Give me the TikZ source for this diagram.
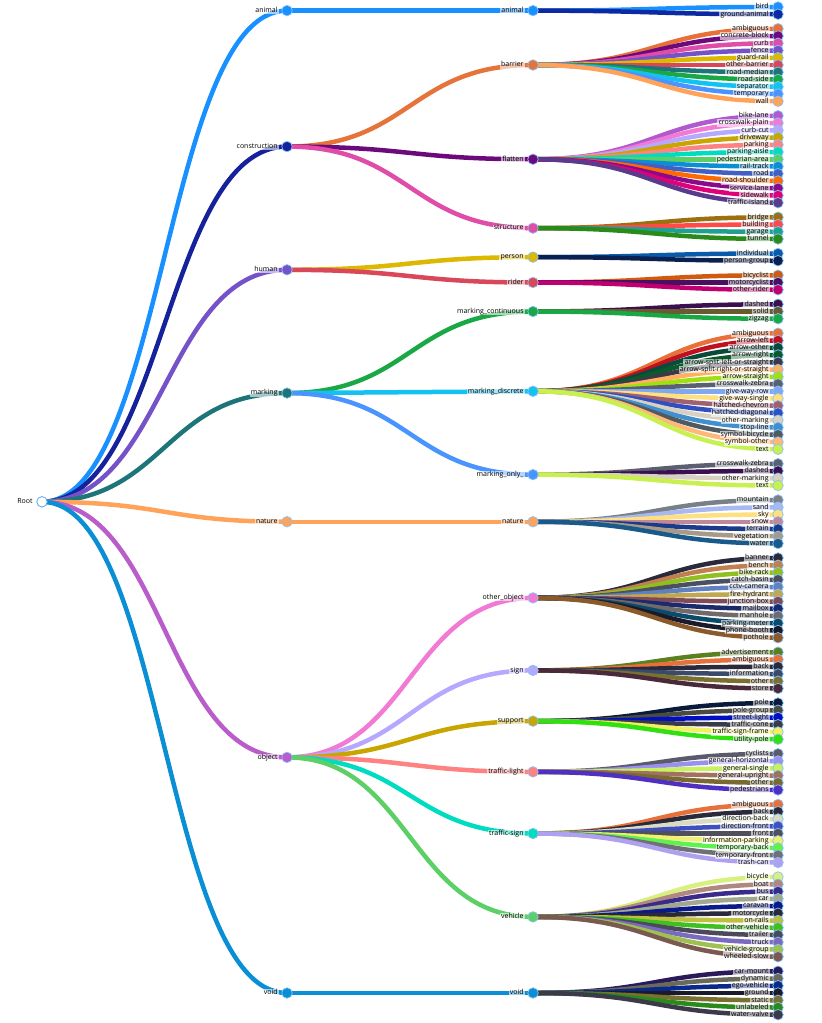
\documentclass[tikz,border=0pt]{standalone}
\usepackage{fontspec}
\setmainfont{Open Sans}
\usetikzlibrary{calc}
\pgfdeclarelayer{bg}
\pgfsetlayers{bg,main}
\tikzset{
  link/.style={line width=4.5pt},
  dot/.style={circle, minimum size=10.5pt, inner sep=0pt, draw=rootblue!70, line width=0.7pt},
  lab/.style={anchor=east, fill=white, fill opacity=0.6, text opacity=1, text=black,
    inner xsep=1.2pt, inner ysep=0.4pt, text height=4.9pt, text depth=1.4pt,
    font=\fontsize{7}{7}\selectfont},
}
\definecolor{rootblue}{HTML}{5AA8F0}
\newcommand\slotY[1]{\pgfmathsetmacro\yy{7+7.25*(#1)}}
% leaves of one level-2 group: parent short name, first slot, list of hex/label
\newcommand\leafgroup[3]{%
  \foreach \hx/\tx [count=\i from 0] in {#3}{%
    \pgfmathsetmacro\yy{7+7.25*(#2+\i)}%
    \definecolor{cc}{HTML}{\hx}%
    \node[dot, fill=cc] (L-#1-\i) at (778,\yy) {};
    \node[lab] (T-#1-\i) at ([xshift=-8pt]L-#1-\i.center) {\tx};
    \begin{pgfonlayer}{bg}
      \draw[link, draw=cc] (M-#1.center) .. controls +(122.5,0) and +(-122.5,0) .. (L-#1-\i.center);
    \end{pgfonlayer}
  }%
}
\begin{document}
\begin{tikzpicture}[x=1pt,y=-1pt]
\useasboundingbox (0,0) rectangle (822,1023);
% root
\slotY{68.25}
\node[dot, fill=white, draw=rootblue, line width=0.8pt] (R) at (42,\yy) {};
\node[lab] (T-R) at ([xshift=-8pt]R.center) {Root};
% level 1
\foreach \nm/\sl/\hx/\tx in {
  animal/0.5/1890FF/animal,
  construction/19.25/16229C/construction,
  human/36.25/7552C8/human,
  marking/53.25/1D7579/marking,
  nature/71/FFA35A/nature,
  object/103.5/B85DC9/object,
  void/136/0A8FD4/void}{
  \pgfmathsetmacro\yy{7+7.25*(\sl)}
  \definecolor{cc}{HTML}{\hx}
  \node[dot, fill=cc] (A-\nm) at (287,\yy) {};
  \node[lab] (T-A-\nm) at ([xshift=-8pt]A-\nm.center) {\tx};
  \begin{pgfonlayer}{bg}
    \draw[link, draw=cc] (R.center) .. controls +(122.5,0) and +(-122.5,0) .. (A-\nm.center);
  \end{pgfonlayer}
}
% level 2
\foreach \nm/\pa/\sl/\hx/\tx in {
  animal/animal/0.5/1890FF/animal,
  barrier/construction/8/E5733A/barrier,
  flatten/construction/21/6C0A7C/flatten,
  structure/construction/30.5/E04DA8/structure,
  person/human/34.5/DDB800/person,
  rider/human/38/D94858/rider,
  mcont/marking/42/19A845/marking\_continuous,
  mdisc/marking/53/14C2F2/marking\_discrete,
  monly/marking/64.5/4A94FF/marking\_only\_,
  nature/nature/71/FFA35A/nature,
  oobj/object/81.5/F07AD4/other\_object,
  sign/object/91.5/B6A8FF/sign,
  support/object/98.5/C8A500/support,
  tlight/object/105.5/FF8282/traffic-light,
  tsign/object/114/00DCC0/traffic-sign,
  vehicle/object/125.5/5CD066/vehicle,
  void/void/136/0A8FD4/void}{
  \pgfmathsetmacro\yy{7+7.25*(\sl)}
  \definecolor{cc}{HTML}{\hx}
  \node[dot, fill=cc] (M-\nm) at (533,\yy) {};
  \node[lab] (T-M-\nm) at ([xshift=-8pt]M-\nm.center) {\tx};
  \begin{pgfonlayer}{bg}
    \draw[link, draw=cc] (A-\pa.center) .. controls +(123,0) and +(-123,0) .. (M-\nm.center);
  \end{pgfonlayer}
}
% leaves
\leafgroup{animal}{0}{1890FF/bird, 0E2AA0/ground-animal}
\leafgroup{barrier}{3}{E8703A/ambiguous, 6C0A7C/concrete-block, E04DA8/curb, 7552C8/fence,
  DDB800/guard-rail, D94858/other-barrier, 1D7579/road-median, 19A845/road-side,
  14C2F2/separator, 4A94FF/temporary, FFA35A/wall}
\leafgroup{flatten}{15}{B05AD0/bike-lane, F07AD4/crosswalk-plain, B6A8FF/curb-cut, C8A500/driveway,
  FF8282/parking, 00DCC0/parking-aisle, 5CD066/pedestrian-area, 0A8FD4/rail-track,
  4060C8/road, FF6A00/road-shoulder, 8A0A8A/service-lane, E0007A/sidewalk, 5A3A8A/traffic-island}
\leafgroup{structure}{29}{9A7010/bridge, FF4A4A/building, 20A090/garage, 2A8A1A/tunnel}
\leafgroup{person}{34}{0A5AAA/individual, 0A2050/person-group}
\leafgroup{rider}{37}{D05A10/bicyclist, 4A1060/motorcyclist, C00070/other-rider}
\leafgroup{mcont}{41}{3A1050/dashed, 6A5A30/solid, 19A845/zigzag}
\leafgroup{mdisc}{45}{E8703A/ambiguous, C01020/arrow-left, 0A4A3A/arrow-other, 0A5A2A/arrow-right,
  3A3A4A/arrow-split-left-or-straight, FFB060/arrow-split-right-or-straight, A0E010/arrow-straight,
  5A6070/crosswalk-zebra, 80A8F0/give-way-row, FFE080/give-way-single, A06070/hatched-chevron,
  3050C0/hatched-diagonal, D8D0C0/other-marking, 4090D0/stop-line, 505A60/symbol-bicycle,
  FFB878/symbol-other, C8F050/text}
\leafgroup{monly}{63}{5A6070/crosswalk-zebra, 3A1050/dashed, D8D0C0/other-marking, C8F050/text}
\leafgroup{nature}{68}{7A8088/mountain, A8B8F0/sand, FFE080/sky, C08898/snow, 1A3A8A/terrain,
  A89A88/vegetation, 1A5A8A/water}
\leafgroup{oobj}{76}{2A2A3A/banner, C08050/bench, 90C020/bike-rack, 4A5060/catch-basin,
  6080C0/cctv-camera, C0A850/fire-hydrant, 804A5A/junction-box, 1A2A6A/mailbox,
  706A6A/manhole, 0A4A6A/parking-meter, 1A1A2A/phone-booth, 8A5A2A/pothole}
\leafgroup{sign}{89}{5A8020/advertisement, E8703A/ambiguous, 2A2A3A/back, 3A4A6A/information,
  7A7030/other, 4A2A3A/store}
\leafgroup{support}{96}{0A1A3A/pole, 4A4A40/pole-group, 0010C0/street-light, 3A3A4A/traffic-cone,
  F0F060/traffic-sign-frame, 30E010/utility-pole}
\leafgroup{tlight}{103}{5A5A6A/cyclists, 9A90F0/general-horizontal, C8F060/general-single,
  A07060/general-upright, 7A6A30/other, 5030C0/pedestrians}
\leafgroup{tsign}{110}{E8703A/ambiguous, 2A2A3A/back, D8DCC0/direction-back, 4050C0/direction-front,
  50505A/front, F0F070/information-parking, 60F050/temporary-back, 707078/temporary-front,
  B0A0F0/trash-can}
\leafgroup{vehicle}{120}{D8F080/bicycle, B08880/boat, 3A2A8A/bus, A0A890/car, 0A1A8A/caravan,
  2A2A3A/motorcycle, C0C040/on-rails, 40C020/other-vehicle, 4A4A5A/trailer, 7A6AC0/truck,
  A0C050/vehicle-group, 7A5A50/wheeled-slow}
\leafgroup{void}{133}{2A1A5A/car-mount, 6A6A5A/dynamic, 0A2A8A/ego-vehicle, 1A1A2A/ground,
  7A7030/static, 2A8A1A/unlabeled, 3A3A4A/water-valve}
\end{tikzpicture}
\end{document}
